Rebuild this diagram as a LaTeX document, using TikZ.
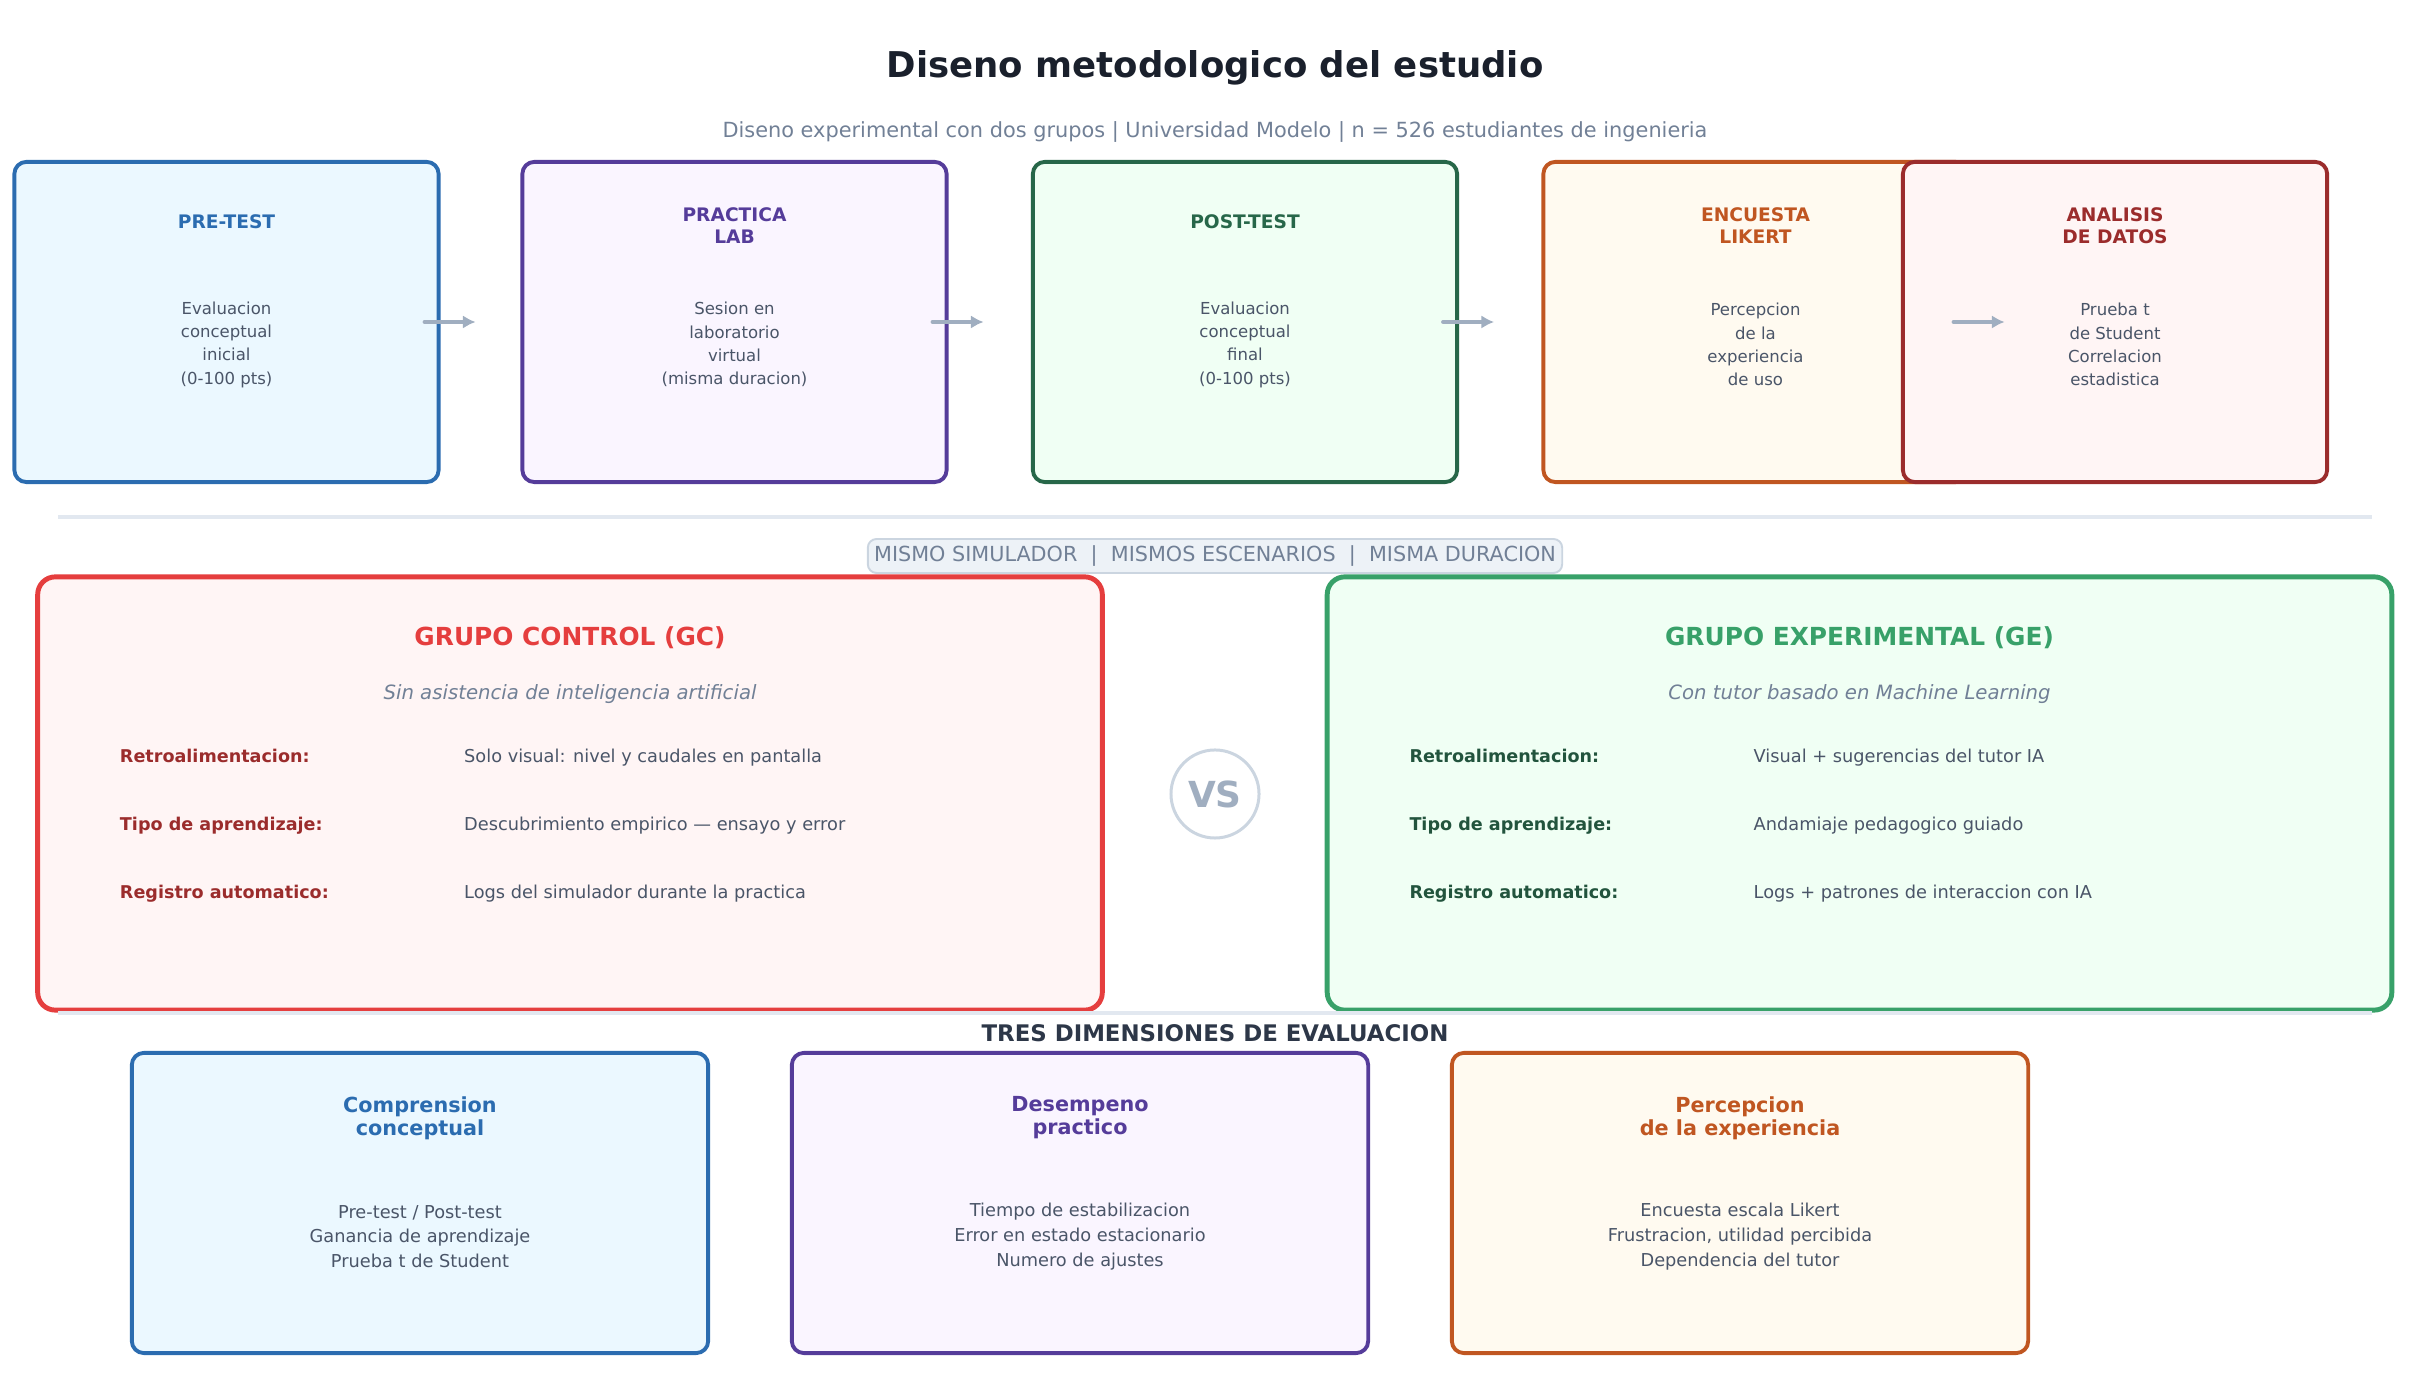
\documentclass[tikz,border=0pt]{standalone}
\usepackage{fontspec}
\setmainfont{DejaVu Sans}
\usepackage{xcolor}
\usepackage{tikz}
\usetikzlibrary{arrows.meta,positioning}
\definecolor{dmInk}{HTML}{1A202C}
\definecolor{dmMuted}{HTML}{718096}
\definecolor{dmBody}{HTML}{4A5568}
\definecolor{dmSection}{HTML}{2D3748}
\definecolor{dmRule}{HTML}{E2E8F0}
\definecolor{dmArrow}{HTML}{A0AEC0}
\definecolor{dmCircle}{HTML}{CBD5E0}
\definecolor{dmBanner}{HTML}{EDF2F7}
\definecolor{dmBlue}{HTML}{2B6CB0}
\definecolor{dmBlueFill}{HTML}{EBF8FF}
\definecolor{dmPurple}{HTML}{553C9A}
\definecolor{dmPurpleFill}{HTML}{FAF5FF}
\definecolor{dmForest}{HTML}{276749}
\definecolor{dmForestFill}{HTML}{F0FFF4}
\definecolor{dmOrange}{HTML}{C05621}
\definecolor{dmOrangeFill}{HTML}{FFFAF0}
\definecolor{dmWine}{HTML}{9B2C2C}
\definecolor{dmWineFill}{HTML}{FFF5F5}
\definecolor{dmRed}{HTML}{E53E3E}
\definecolor{dmRedFill}{HTML}{FFF5F5}
\definecolor{dmGreen}{HTML}{38A169}
\definecolor{dmGreenFill}{HTML}{F0FFF4}
\definecolor{dmPine}{HTML}{22543D}
\tikzset{
  dm diagram/.style={line cap=round, line join=round},
  dm heading/.style={font=\fontsize{10.1}{12}\selectfont\bfseries, text=dmInk},
  dm subheading/.style={font=\fontsize{5.93}{7}\selectfont, text=dmMuted},
  dm stage/.style={draw=#1, fill=#1Fill, line width=1.1pt,
    rounded corners=3.4pt, minimum width=4.24cm, minimum height=3.2cm, inner sep=0pt},
  dm stage title/.style={text=#1, font=\fontsize{5.3}{6.3}\selectfont\bfseries,
    align=center, inner sep=0pt},
  dm stage text/.style={text=dmBody, font=\fontsize{4.7}{6.63}\selectfont,
    align=center, inner sep=0pt},
  dm arrow/.style={-{Latex[length=3.6pt,width=3.8pt]}, draw=dmArrow, line width=1.1pt},
  dm rule/.style={draw=dmRule, line width=1.1pt, line cap=butt},
  dm banner/.style={draw=dmCircle, fill=dmBanner, line width=0.55pt, rounded corners=2.5pt,
    text=dmMuted, font=\fontsize{5.9}{7}\selectfont,
    minimum width=6.94cm, minimum height=0.34cm, inner sep=0pt},
  dm group/.style={draw=#1, fill=#1Fill, line width=1.4pt,
    rounded corners=5pt, minimum width=10.64cm, minimum height=4.33cm, inner sep=0pt},
  dm group title/.style={text=#1, font=\fontsize{7.07}{8.5}\selectfont\bfseries, inner sep=0pt},
  dm group sub/.style={text=dmMuted, font=\fontsize{5.6}{6.8}\selectfont\itshape, inner sep=0pt},
  dm key/.style={text=#1, font=\fontsize{5}{6}\selectfont\bfseries, anchor=base west, inner sep=0pt},
  dm value/.style={text=dmBody, font=\fontsize{5.05}{6}\selectfont, anchor=base west, inner sep=0pt},
  dm versus/.style={circle, draw=dmCircle, fill=white, line width=0.85pt,
    minimum size=0.88cm, inner sep=0pt, text=dmArrow, font=\fontsize{10.2}{12}\selectfont\bfseries},
  dm section/.style={text=dmSection, font=\fontsize{6.5}{8}\selectfont\bfseries},
  dm dim/.style={draw=#1, fill=#1Fill, line width=1.1pt,
    rounded corners=3.4pt, minimum width=5.76cm, minimum height=3cm, inner sep=0pt},
  dm dim title/.style={text=#1, font=\fontsize{5.9}{6.5}\selectfont\bfseries,
    align=center, inner sep=0pt},
  dm dim text/.style={text=dmBody, font=\fontsize{5.05}{7}\selectfont,
    align=center, inner sep=0pt}
}
\begin{document}
\begin{tikzpicture}[dm diagram, x=0.01cm, y=-0.01cm]
\useasboundingbox (0,0) rectangle (2430,1380);
\node[dm heading] (title) at (1215,67.5) {Diseno metodologico del estudio};
\node[dm subheading] (subtitle) at (1215,132) {Diseno experimental con dos grupos | Universidad Modelo | n = 526 estudiantes de ingenieria};

% fases del estudio
\node[dm stage=dmBlue] (pre) at (226.5,322) {};
\node[dm stage=dmPurple] (lab) at (734.5,322) {};
\node[dm stage=dmForest] (post) at (1245,322) {};
\node[dm stage=dmOrange] (likert) at (1755.5,322) {};
\node[dm stage=dmWine] (stats) at (2115,322) {};
\foreach \n/\c/\t/\b/\d in {
  pre/dmBlue/{PRE-TEST}/{Evaluacion\\conceptual\\inicial\\(0-100 pts)}/0.62,
  lab/dmPurple/{PRACTICA\\LAB}/{Sesion en\\laboratorio\\virtual\\(misma duracion)}/0.66,
  post/dmForest/{POST-TEST}/{Evaluacion\\conceptual\\final\\(0-100 pts)}/0.62,
  likert/dmOrange/{ENCUESTA\\LIKERT}/{Percepcion\\de la\\experiencia\\de uso}/0.66,
  stats/dmWine/{ANALISIS\\DE DATOS}/{Prueba t\\de Student\\Correlacion\\estadistica}/0.66} {
  \node[dm stage title=\c] (\n-title) at ([yshift=-\d cm]\n.north) {\t};
  \node[dm stage text] (\n-text) at ([yshift=-1.845cm]\n.north) {\b};
}
\foreach \a in {pre,lab,post,likert}
  \draw[dm arrow] ([xshift=-0.16cm]\a.east) -- ([xshift=0.35cm]\a.east);

\draw[dm rule] (58,517) -- (2372,517);
\node[dm banner] (same) at (1215,556) {MISMO SIMULADOR~~|~~MISMOS ESCENARIOS~~|~~MISMA DURACION};

% grupos
\node[dm group=dmRed] (gc) at (570,793.5) {};
\node[dm group=dmGreen] (ge) at (1859.5,793.5) {};
\node[dm group title=dmRed] (gc-title) at ([yshift=-0.63cm]gc.north) {GRUPO CONTROL (GC)};
\node[dm group sub] (gc-sub) at ([yshift=-1.2cm]gc.north) {Sin asistencia de inteligencia artificial};
\node[dm group title=dmGreen] (ge-title) at ([yshift=-0.63cm]ge.north) {GRUPO EXPERIMENTAL (GE)};
\node[dm group sub] (ge-sub) at ([yshift=-1.2cm]ge.north) {Con tutor basado en Machine Learning};
\foreach \k/\v [count=\i from 0] in {Retroalimentacion:/Solo visual: nivel y caudales en pantalla,
    Tipo de aprendizaje:/Descubrimiento empirico — ensayo y error,
    Registro automatico:/Logs del simulador durante la practica} {
  \node[dm key=dmWine] (gc-key-\i) at ([xshift=0.84cm, yshift={-1.88cm-\i*0.68cm}]gc.north west) {\k};
  \node[dm value] (gc-val-\i) at ([xshift=4.28cm, yshift={-1.88cm-\i*0.68cm}]gc.north west) {\v};
}
\foreach \k/\v [count=\i from 0] in {Retroalimentacion:/Visual + sugerencias del tutor IA,
    Tipo de aprendizaje:/Andamiaje pedagogico guiado,
    Registro automatico:/Logs + patrones de interaccion con IA} {
  \node[dm key=dmPine] (ge-key-\i) at ([xshift=0.84cm, yshift={-1.88cm-\i*0.68cm}]ge.north west) {\k};
  \node[dm value] (ge-val-\i) at ([xshift=4.28cm, yshift={-1.88cm-\i*0.68cm}]ge.north west) {\v};
}
\node[dm versus] (vs) at (1215,794) {VS};

\draw[dm rule] (58,1013) -- (2372,1013);
\node[dm section] (dims) at (1215,1033) {TRES DIMENSIONES DE EVALUACION};

% dimensiones de evaluacion
\node[dm dim=dmBlue] (comp) at (420,1203) {};
\node[dm dim=dmPurple] (perf) at (1080,1203) {};
\node[dm dim=dmOrange] (perc) at (1740,1203) {};
\node[dm dim title=dmBlue] (comp-title) at ([yshift=-0.67cm]comp.north) {Comprension\\conceptual};
\node[dm dim text] (comp-text) at ([yshift=-1.855cm]comp.north) {Pre-test / Post-test\\Ganancia de aprendizaje\\Prueba t de Student};
\node[dm dim title=dmPurple] (perf-title) at ([yshift=-0.67cm]perf.north) {Desempeno\\practico};
\node[dm dim text] (perf-text) at ([yshift=-1.855cm]perf.north) {Tiempo de estabilizacion\\Error en estado estacionario\\Numero de ajustes};
\node[dm dim title=dmOrange] (perc-title) at ([yshift=-0.67cm]perc.north) {Percepcion\\de la experiencia};
\node[dm dim text] (perc-text) at ([yshift=-1.855cm]perc.north) {Encuesta escala Likert\\Frustracion, utilidad percibida\\Dependencia del tutor};
\end{tikzpicture}
\end{document}
